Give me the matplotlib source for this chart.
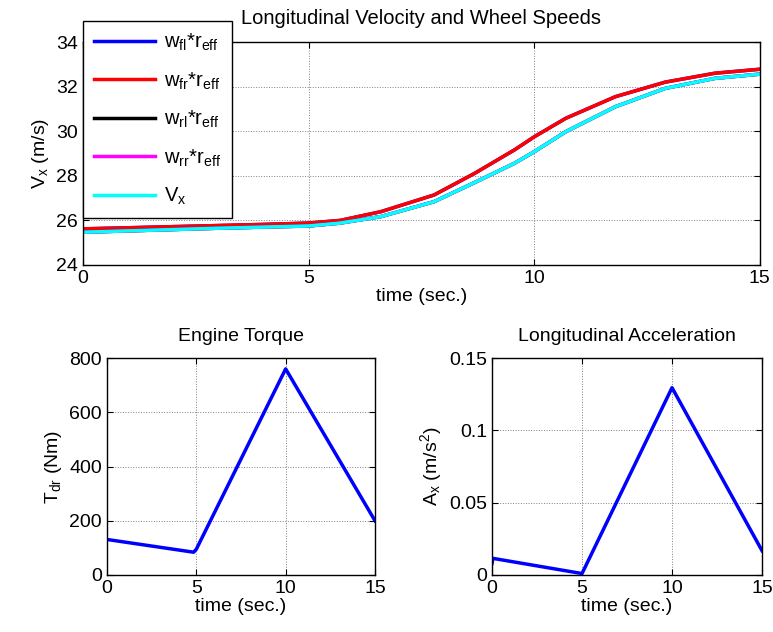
import matplotlib
matplotlib.use('Agg')
import matplotlib.pyplot as plt

plt.rcParams['font.family'] = ['Liberation Sans', 'DejaVu Sans']
plt.rcParams['mathtext.default'] = 'regular'

# wheel speeds * r_eff (front) and vehicle speed / rear wheels
t_front = [0, 1, 2, 3, 4, 5, 5.7, 6.6, 7.78, 8.67, 9.56, 10, 10.7, 11.8, 12.9, 14.0, 15]
v_front = [25.62, 25.67, 25.72, 25.77, 25.82, 25.88, 26.0, 26.39, 27.14, 28.1, 29.16, 29.75, 30.58, 31.55, 32.2, 32.6, 32.78]
t_rear = [0, 1, 2, 3, 4, 5, 5.7, 6.6, 7.78, 8.67, 9.56, 10, 10.7, 11.8, 12.9, 14.0, 15]
v_rear = [25.47, 25.53, 25.59, 25.65, 25.7, 25.75, 25.88, 26.17, 26.84, 27.69, 28.56, 29.08, 29.98, 31.1, 31.92, 32.37, 32.56]

# engine torque
t_trq = [0, 4.85, 5.0, 10, 15]
trq = [131, 84, 95, 760, 200]

# longitudinal acceleration
t_acc = [0, 0.05, 5.0, 10, 15]
acc = [0.008, 0.0115, 0.001, 0.1295, 0.0168]

fig = plt.figure(figsize=(7.73, 6.32), dpi=100)

def style(ax):
    ax.grid(True, color='#808080', linestyle=':', linewidth=0.7)
    ax.tick_params(direction='in', top=True, right=True, labelsize=14, length=4)
    for s in ax.spines.values():
        s.set_linewidth(1.0)

# top: velocity & wheel speeds
ax1 = fig.add_axes([0.1074, 0.5807, 0.8756, 0.3528])
ax1.plot(t_front, v_front, color='#0000ff', lw=2.5, label=r'w$_{fl}$*r$_{eff}$')
ax1.plot(t_front, v_front, color='#ff0000', lw=2.5, label=r'w$_{fr}$*r$_{eff}$')
ax1.plot(t_rear, v_rear, color='black', lw=2.5, label=r'w$_{rl}$*r$_{eff}$')
ax1.plot(t_rear, v_rear, color='#ff00ff', lw=2.5, label=r'w$_{rr}$*r$_{eff}$')
ax1.plot(t_rear, v_rear, color='#00ffff', lw=2.5, label=r'V$_{x}$')
ax1.set_xlim(0, 15)
ax1.set_ylim(24, 34)
ax1.set_xticks([0, 5, 10, 15])
ax1.set_yticks([24, 26, 28, 30, 32, 34])
ax1.set_title('Longitudinal Velocity and Wheel Speeds', fontsize=14.5, pad=13)
ax1.set_xlabel('time (sec.)', fontsize=14, labelpad=1)
ax1.set_ylabel('V$_x$ (m/s)', fontsize=14)
style(ax1)
leg = ax1.legend(loc='upper left', bbox_to_anchor=(0.1074, 0.9668), bbox_transform=fig.transFigure,
                 borderaxespad=0, fontsize=14.5, handlelength=3.0, handletextpad=0.45,
                 labelspacing=0.85, fancybox=False, edgecolor='black', framealpha=1, borderpad=0.55)
leg.get_frame().set_linewidth(1.0)

# bottom left: engine torque
ax2 = fig.add_axes([0.1384, 0.0902, 0.3467, 0.3433])
ax2.plot(t_trq, trq, color='#0000ff', lw=2.5)
ax2.set_xlim(0, 15)
ax2.set_ylim(0, 800)
ax2.set_xticks([0, 5, 10, 15])
ax2.set_yticks([0, 200, 400, 600, 800])
ax2.set_title('Engine Torque', fontsize=14, pad=12)
ax2.set_xlabel('time (sec.)', fontsize=14, labelpad=1)
ax2.set_ylabel('T$_{dr}$ (Nm)', fontsize=14)
style(ax2)

# bottom right: longitudinal acceleration
ax3 = fig.add_axes([0.6365, 0.0902, 0.3493, 0.3433])
ax3.plot(t_acc, acc, color='#0000ff', lw=2.5)
ax3.set_xlim(0, 15)
ax3.set_ylim(0, 0.15)
ax3.set_xticks([0, 5, 10, 15])
ax3.set_yticks([0, 0.05, 0.1, 0.15])
ax3.set_yticklabels(['0', '0.05', '0.1', '0.15'])
ax3.set_title('Longitudinal Acceleration', fontsize=14, pad=12)
ax3.set_xlabel('time (sec.)', fontsize=14, labelpad=1)
ax3.set_ylabel('A$_x$ (m/s$^2$)', fontsize=14)
style(ax3)

fig.savefig('out.png', dpi=100)
